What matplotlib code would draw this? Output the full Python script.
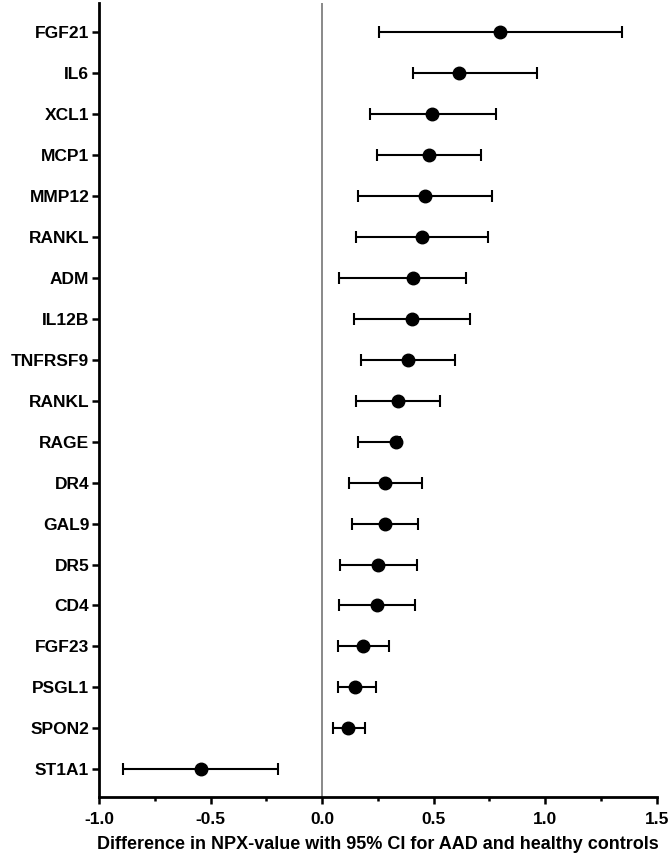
import matplotlib
import matplotlib.pyplot as plt
import numpy as np
from matplotlib.ticker import MultipleLocator

matplotlib.use('Agg')

# proteins, top to bottom
proteins = ["FGF21", "IL6", "XCL1", "MCP1", "MMP12", "RANKL", "ADM", "IL12B",
            "TNFRSF9", "RANKL", "RAGE", "DR4", "GAL9", "DR5", "CD4", "FGF23",
            "PSGL1", "SPON2", "ST1A1"]
# mean difference in NPX and 95% CI bounds
diff = [0.798, 0.612, 0.495, 0.479, 0.462, 0.446, 0.408, 0.401, 0.384, 0.341,
        0.332, 0.283, 0.281, 0.251, 0.245, 0.184, 0.148, 0.118, -0.544]
ci_low = [0.253, 0.408, 0.214, 0.247, 0.162, 0.151, 0.076, 0.142, 0.174, 0.151,
          0.162, 0.120, 0.133, 0.079, 0.076, 0.072, 0.072, 0.047, -0.892]
ci_high = [1.344, 0.963, 0.779, 0.712, 0.764, 0.743, 0.647, 0.662, 0.595, 0.528,
           0.350, 0.447, 0.429, 0.425, 0.416, 0.300, 0.241, 0.193, -0.196]

plt.rcParams['font.family'] = ['Liberation Sans', 'DejaVu Sans']
plt.rcParams['font.weight'] = 'bold'

fig = plt.figure(figsize=(6.72, 8.59), dpi=100)
ax = fig.add_axes([0.1473, 0.0722, 0.8299, 0.9243])

y = np.arange(len(proteins))[::-1]
diff = np.array(diff)
err = np.vstack([diff - np.array(ci_low), np.array(ci_high) - diff])

# reference line at no difference
ax.axvline(0, color='#808080', lw=1.3, zorder=1)

ax.errorbar(diff, y, xerr=err, fmt='o', color='black', ms=9, elinewidth=1.5,
            capsize=4.5, capthick=1.5, zorder=3)

ax.set_xlim(-1.0, 1.5)
ax.set_ylim(-0.68, 18.72)
ax.set_yticks(y)
ax.set_yticklabels(proteins)
ax.xaxis.set_major_locator(MultipleLocator(0.5))
ax.xaxis.set_minor_locator(MultipleLocator(0.25))
ax.xaxis.set_major_formatter(matplotlib.ticker.FormatStrFormatter('%.1f'))

for side in ['top', 'right']:
    ax.spines[side].set_visible(False)
for side in ['left', 'bottom']:
    ax.spines[side].set_linewidth(2)

ax.tick_params(axis='both', which='major', width=1.8, length=5, labelsize=12.5)
ax.tick_params(axis='y', pad=2)
ax.tick_params(axis='x', pad=6)
ax.tick_params(axis='x', which='minor', width=1.8, length=3)
for lab in ax.get_xticklabels() + ax.get_yticklabels():
    lab.set_fontweight('bold')

ax.set_xlabel("Difference in NPX-value with 95% CI for AAD and healthy controls",
              fontsize=13, fontweight='bold', labelpad=6)

fig.savefig('out.png', dpi=100)
